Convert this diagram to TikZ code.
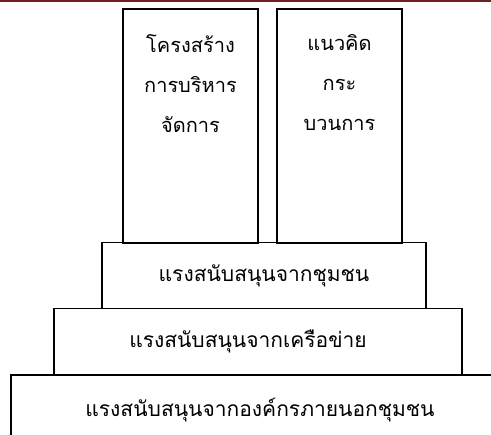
\documentclass[tikz,border=0pt]{standalone}
\usepackage{fontspec}
\newfontfamily\thaifont[Script=Thai]{Loma}
\usetikzlibrary{positioning}

\definecolor{topred}{RGB}{112,32,32}

\begin{document}
\begin{tikzpicture}[x=1pt,y=-1pt,
		pillar/.style={draw,line width=1.2pt,minimum width=#1,minimum height=234pt,inner sep=0pt},
		layer/.style={draw,line width=1.2pt,minimum width=#1,minimum height=66pt,inner sep=0pt,
			font=\thaifont\fontsize{21}{24}\selectfont},
		pillartext/.style={align=center,font=\thaifont\fontsize{20}{40}\selectfont,inner sep=0pt}]
		\useasboundingbox (0,0) rectangle (491,435);
		\fill[topred] (0,0) rectangle (491,2.5);
		
		% two pillars
		\node[pillar=135pt] (struct) at (190.5,126) {};
		\node[pillar=125pt] (concept) at (339.5,126) {};
		\node[pillartext,below=26pt of struct.north] (structtext) {โครงสร้าง\\การบริหาร\\จัดการ};
		\node[pillartext,below=26pt of concept.north] (concepttext) {แนวคิด\\กระ\\บวนการ};
		
		% supporting layers
		\node[layer=324pt] (community) at (264,275.5) {แรงสนับสนุนจากชุมชน};
		\node[layer=408pt] (network) at (258,341.5) {\hspace*{-20pt}แรงสนับสนุนจากเครือข่าย};
		\node[layer=490pt,minimum height=70pt] (outside) at (256,410) {\hspace*{8pt}แรงสนับสนุนจากองค์กรภายนอกชุมชน};
\end{tikzpicture}
\end{document}
